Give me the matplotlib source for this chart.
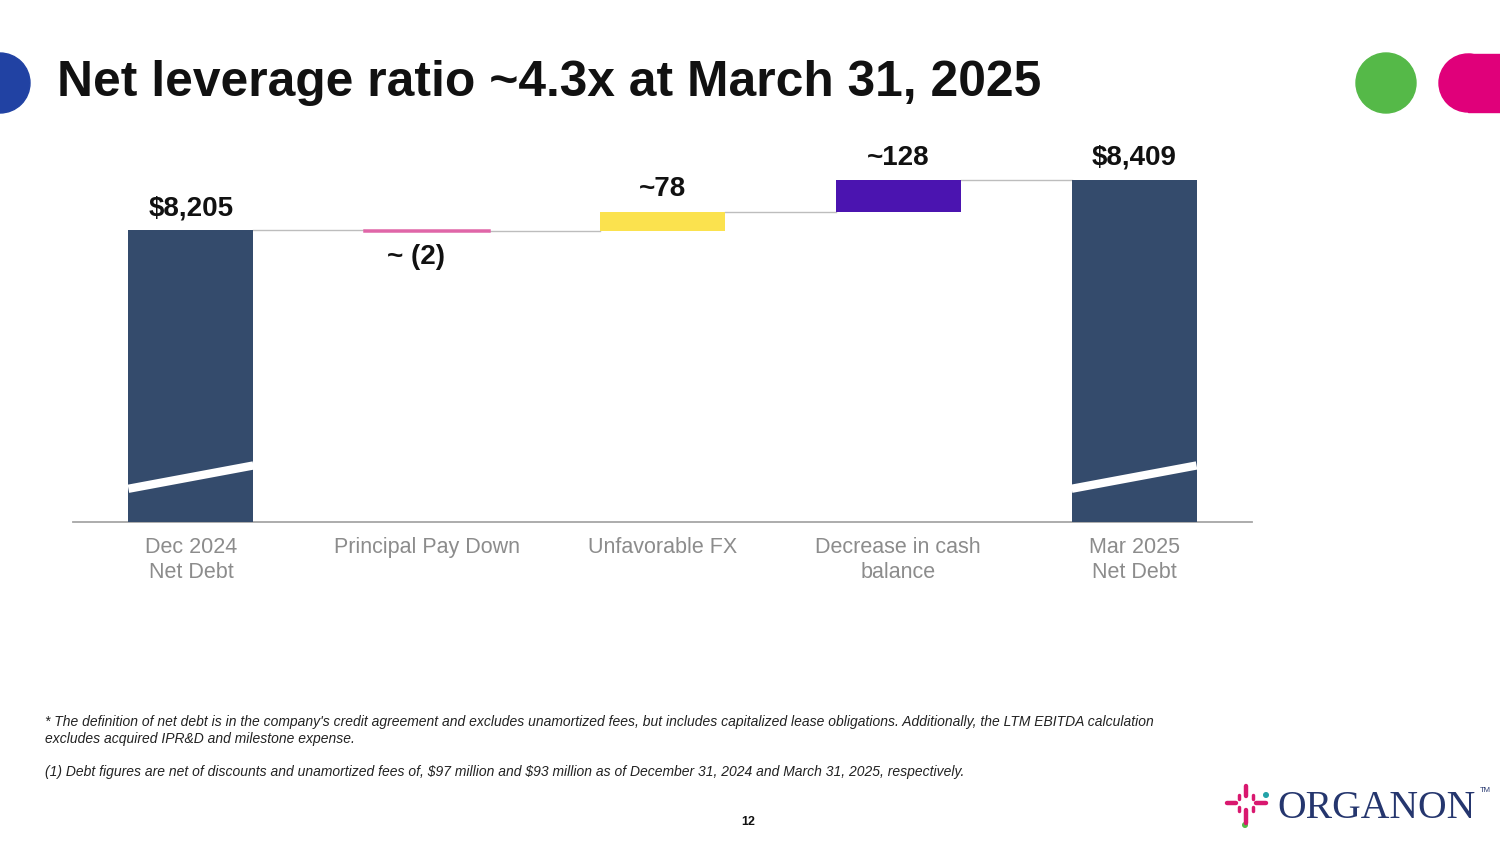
import matplotlib
matplotlib.use("Agg")
import matplotlib.pyplot as plt
from matplotlib.patches import Circle, Rectangle
import matplotlib.transforms as mtransforms
import numpy as np

# data (USD millions)
categories = ["Dec 2024\nNet Debt", "Principal Pay Down", "Unfavorable FX",
              "Decrease in cash\nbalance", "Mar 2025\nNet Debt"]
start_debt = 8205
end_debt = 8409
changes = [-2, 78, 128]
value_labels = ["$8,205", "~ (2)", "~78", "~128", "$8,409"]

NAVY = "#344B6C"
step_colors = ["#E066A8", "#FBE24E", "#4B14B0"]

plt.rcParams['font.family'] = ['Liberation Sans', 'DejaVu Sans']
plt.rcParams['text.parse_math'] = False

fig = plt.figure(figsize=(15, 8.44), dpi=100)
fig.patch.set_facecolor("white")

# decorative background layer in pixel coordinates
bg = fig.add_axes([0, 0, 1, 1])
bg.set_xlim(0, 1500)
bg.set_ylim(844, 0)
bg.axis("off")
bg.add_patch(Circle((0, 83), 30, color="#2142A3"))
bg.add_patch(Circle((1386, 83), 30, color="#55B948"))
bg.add_patch(Rectangle((1468, 54), 40, 58, color="#E0007A"))
bg.add_patch(Circle((1468, 83), 29, color="#E0007A"))

# logo
for x0, y0, x1, y1 in [(1246, 786, 1246, 796), (1246, 810, 1246, 823),
                       (1227, 803, 1236, 803), (1256, 803, 1266, 803)]:
    bg.plot([x0, x1], [y0, y1], color="#D9186F", lw=3.2, solid_capstyle="round")
for px, py in [(1239, 797), (1253, 797), (1239, 809), (1253, 809)]:
    bg.plot([px, px], [py - 2, py + 2], color="#D9186F", lw=2.5, solid_capstyle="round")
bg.add_patch(Circle((1266, 795), 2.3, color="#23A3A8"))
bg.add_patch(Circle((1245, 825), 2.3, color="#55B948"))
bg.text(1277, 818, "ORGANON", fontsize=28.5, family="Liberation Serif",
        color="#25366E", va="baseline", ha="left")
bg.text(1480, 791, "TM", fontsize=5.5, color="#25366E", ha="left", va="center")

# title
bg.text(57, 83, "Net leverage ratio ~4.3x at March 31, 2025", fontsize=35.8,
        fontweight="bold", color="#111111", va="center", ha="left")

# footnotes
foot_kw = dict(fontsize=10, style="italic", color="#222222", va="center")
bg.text(45, 722, "* The definition of net debt is in the company's credit agreement and excludes "
        "unamortized fees, but includes capitalized lease obligations. Additionally, the LTM EBITDA calculation",
        **foot_kw)
bg.text(45, 739, "excludes acquired IPR&D and milestone expense.", **foot_kw)
bg.text(45, 772, "(1) Debt figures are net of discounts and unamortized fees of, $97 million and $93 million "
        "as of December 31, 2024 and March 31, 2025, respectively.", **foot_kw)
bg.text(748, 822, "12", fontsize=9, fontweight="bold", color="#111111", ha="center", va="center")

# waterfall chart
ax = fig.add_axes([73 / 1500, (844 - 522) / 844, 1179 / 1500, (522 - 140) / 844])
ax.patch.set_alpha(0)
y_bottom = 7015
ax.set_xlim(-0.5, 4.5)
ax.set_ylim(y_bottom, 8573)

x = np.arange(len(categories))
width = 0.53

levels = [start_debt] + list(start_debt + np.cumsum(changes))

# totals
for xi, val in [(0, start_debt), (4, end_debt)]:
    ax.bar(xi, val - y_bottom, bottom=y_bottom, width=width, color=NAVY, zorder=3)

# steps
for i, (d, c) in enumerate(zip(changes, step_colors)):
    lw = 1.8 if abs(d) < 5 else 0
    ax.bar(x[i + 1], d, bottom=levels[i], width=width, color=c, edgecolor=c,
           linewidth=lw, zorder=3)

# connectors
for i, lvl in enumerate(levels):
    ax.plot([x[i] + width / 2, x[i + 1] - width / 2], [lvl, lvl],
            color="#BDBDBD", lw=1.0, zorder=2)

# break marks on the total bars
trans = mtransforms.blended_transform_factory(ax.transData, ax.transAxes)
for xi in (0, 4):
    ax.plot([xi - width / 2, xi + width / 2], [0.087, 0.148], color="white",
            lw=6, transform=trans, zorder=4, solid_capstyle="butt")

# value labels
tops = [start_debt] + [lv + max(d, 0) for lv, d in zip(levels[:-1], changes)] + [end_debt]
for i, (lab, top) in enumerate(zip(value_labels, tops)):
    if i in (1, 2, 3) and changes[i - 1] < 0:
        ax.annotate(lab, (x[i], levels[i]), xytext=(-8, -19), textcoords="offset points",
                    ha="center", va="center", fontsize=20, fontweight="bold", color="#111111")
    else:
        ax.annotate(lab, (x[i], top), xytext=(0, 16), textcoords="offset points",
                    ha="center", va="center", fontsize=20, fontweight="bold", color="#111111")

for s in ("top", "right", "left"):
    ax.spines[s].set_visible(False)
ax.spines["bottom"].set_color("#A6A6A6")
ax.spines["bottom"].set_linewidth(1.3)
ax.set_yticks([])
ax.set_xticks(x)
ax.set_xticklabels(categories, fontsize=15.5, color="#8C8C8C", linespacing=1.25)
ax.tick_params(axis="x", length=0, pad=10.5)

fig.savefig("out.png", dpi=100, facecolor="white")
